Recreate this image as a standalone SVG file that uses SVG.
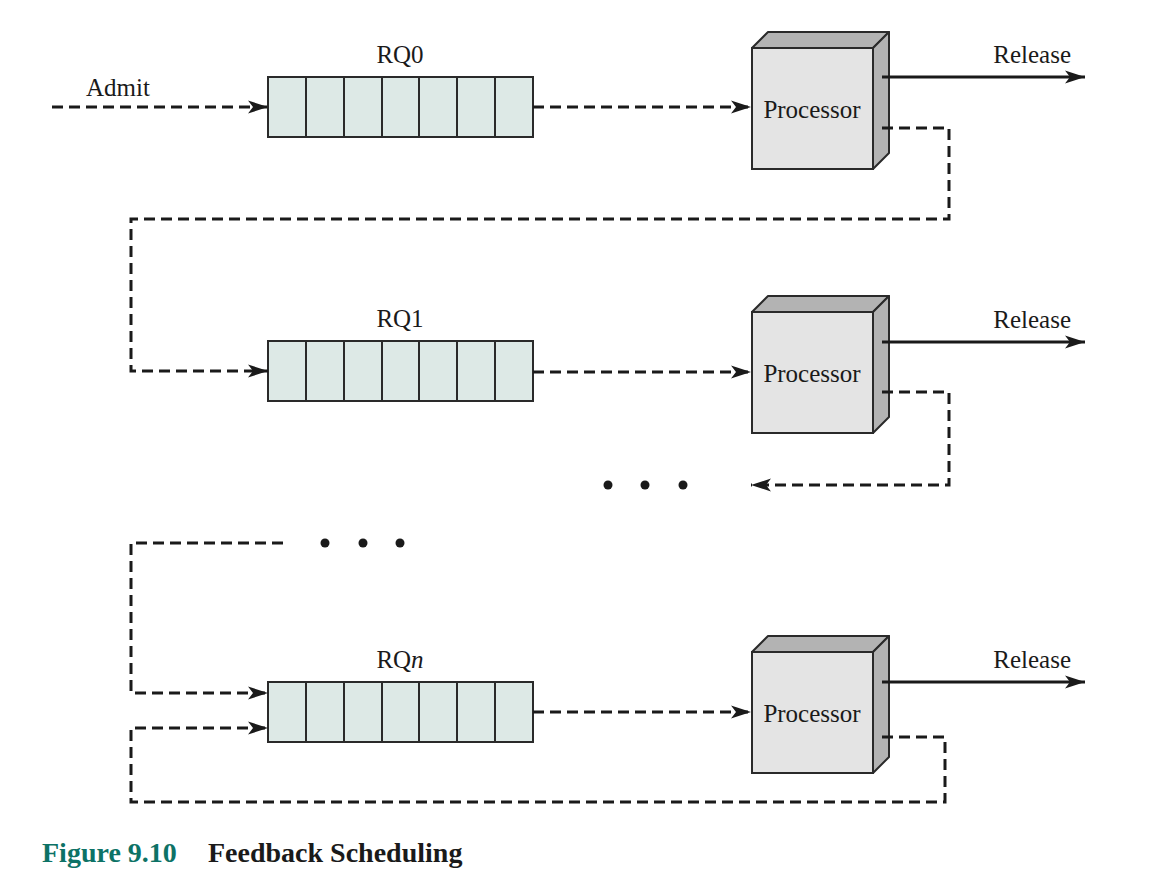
<svg xmlns="http://www.w3.org/2000/svg" width="1154" height="884" viewBox="0 0 1154 884">
<style>
.q{fill:#dde9e6;stroke:#2a2a2a;stroke-width:2}
.cell{stroke:#2a2a2a;stroke-width:2}
.front{fill:#e4e4e4;stroke:#2a2a2a;stroke-width:2}
.top{fill:#b3b3b3;stroke:#2a2a2a;stroke-width:2;stroke-linejoin:round}
.t{font-family:"Liberation Serif","Times New Roman",serif;font-size:25px;fill:#1a1a1a}
.d{fill:none;stroke:#1a1a1a;stroke-width:3;stroke-dasharray:11 6}
.s{fill:none;stroke:#1a1a1a;stroke-width:3}
.cap{font-family:"Liberation Serif","Times New Roman",serif;font-size:28px;font-weight:bold}
</style>
<defs>
<marker id="ah" markerUnits="userSpaceOnUse" markerWidth="22" markerHeight="14" refX="20" refY="7" orient="auto">
<path d="M0,0.5 L20,7 L0,13.5 L5,7 Z" fill="#1a1a1a"/>
</marker>
<g id="queue">
<rect class="q" x="0" y="0" width="265" height="60"/>
<path class="cell" d="M38,0V60M76,0V60M114,0V60M151,0V60M189,0V60M227,0V60"/>
</g>
<g id="proc">
<rect class="front" x="0" y="0" width="121" height="121"/>
<polygon class="top" points="0,0 16,-16 137,-16 121,0"/>
<polygon class="top" points="121,0 137,-16 137,105 121,121"/>
</g>
</defs>

<g id="rq0">
<use href="#queue" x="268" y="77"/>
<text class="t" x="400" y="63" text-anchor="middle">RQ0</text>
</g>
<g id="rq1">
<use href="#queue" x="268" y="341"/>
<text class="t" x="400" y="327" text-anchor="middle">RQ1</text>
</g>
<g id="rqn">
<use href="#queue" x="268" y="682"/>
<text class="t" x="400" y="668" text-anchor="middle">RQ<tspan font-style="italic">n</tspan></text>
</g>

<g id="p0">
<use href="#proc" x="752" y="48"/>
<text class="t" x="812" y="118" text-anchor="middle">Processor</text>
</g>
<g id="p1">
<use href="#proc" x="752" y="312"/>
<text class="t" x="812" y="382" text-anchor="middle">Processor</text>
</g>
<g id="pn">
<use href="#proc" x="752" y="652"/>
<text class="t" x="812" y="722" text-anchor="middle">Processor</text>
</g>

<g id="labels">
<text class="t" x="86" y="96">Admit</text>
<text class="t" x="1071" y="63" text-anchor="end">Release</text>
<text class="t" x="1071" y="328" text-anchor="end">Release</text>
<text class="t" x="1071" y="668" text-anchor="end">Release</text>
</g>

<g id="dots" fill="#1a1a1a">
<circle cx="608" cy="485" r="4.5"/>
<circle cx="645" cy="485" r="4.5"/>
<circle cx="683" cy="485" r="4.5"/>
<circle cx="325" cy="543" r="4.5"/>
<circle cx="363" cy="543" r="4.5"/>
<circle cx="400" cy="543" r="4.5"/>
</g>

<g id="connectors">
<path class="d" d="M52,107H268" marker-end="url(#ah)"/>
<path class="d" d="M533,107H751" marker-end="url(#ah)"/>
<path class="s" d="M882,77H1085" marker-end="url(#ah)"/>
<path class="d" d="M882,128H949V219H131V371H268" marker-end="url(#ah)"/>
<path class="d" d="M533,372H751" marker-end="url(#ah)"/>
<path class="s" d="M882,342H1085" marker-end="url(#ah)"/>
<path class="d" d="M882,392H949V485H751" marker-end="url(#ah)"/>
<path class="d" d="M283,543H131V693H268" marker-end="url(#ah)"/>
<path class="d" d="M533,712H751" marker-end="url(#ah)"/>
<path class="s" d="M882,682H1085" marker-end="url(#ah)"/>
<path class="d" d="M882,737H945V802H131V728H268" marker-end="url(#ah)"/>
</g>

<g id="caption">
<text class="cap" x="42" y="862" fill="#0d7266">Figure 9.10</text>
<text class="cap" x="208" y="862" fill="#1a1a1a">Feedback Scheduling</text>
</g>
</svg>
